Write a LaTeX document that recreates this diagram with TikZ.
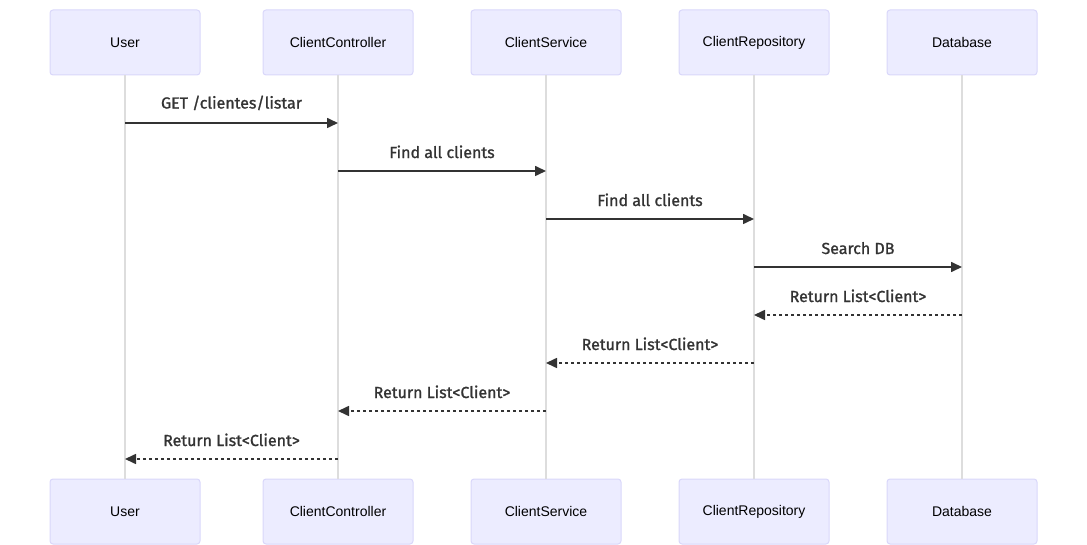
\documentclass[tikz,border=0pt]{standalone}
\usepackage{fontspec}
\setmainfont{Liberation Sans}
\newfontfamily\msgfont{Fira Sans}[FakeBold=1.2]
\usetikzlibrary{arrows.meta}
\definecolor{boxfill}{HTML}{ECECFF}
\definecolor{boxline}{HTML}{D9D7FA}
\definecolor{lifeline}{HTML}{DDDDDD}
\definecolor{ink}{HTML}{333333}
\begin{document}
\begin{tikzpicture}[x=1pt,y=-1pt,
  actor/.style={draw=boxline, line width=1pt, fill=boxfill, rounded corners=3pt,
    minimum width=150pt, minimum height=65pt, inner sep=0pt, font=\fontsize{14}{16}\selectfont, text=black},
  life/.style={draw=lifeline, line width=1.6pt},
  msg/.style={draw=ink, line width=1.6pt, -{Triangle[length=11pt,width=10pt]}},
  ret/.style={msg, dash pattern=on 3pt off 3pt},
  lbl/.style={font=\msgfont\fontsize{16}{18}\selectfont, text=ink, inner sep=0pt}]
\useasboundingbox (0,0) rectangle (1087,545);
\foreach \n/\t/\x in {u/User/125, cc/ClientController/338, cs/ClientService/546, cr/ClientRepository/754, db/Database/962}{
  \node[actor] (\n t) at (\x,42.5) {\t};
  \node[actor] (\n b) at (\x,511.5) {\t};
  \draw[life] (\n t.south) -- (\n b.north);
}
\foreach \n/\x in {u/125, cc/338, cs/546, cr/754, db/962}{
  \foreach \y in {123,171,219,267,315,363,411,459}{
    \coordinate (\n\y) at (\x,\y);
  }
}
\draw[msg] (u123) -- node[lbl, above=12pt] {GET /clientes/listar} (cc123);
\draw[msg] (cc171) -- node[lbl, above=12pt] {Find all clients} (cs171);
\draw[msg] (cs219) -- node[lbl, above=12pt] {Find all clients} (cr219);
\draw[msg] (cr267) -- node[lbl, above=12pt] {Search DB} (db267);
\draw[ret] (db315) -- node[lbl, above=12pt] {Return List<Client>} (cr315);
\draw[ret] (cr363) -- node[lbl, above=12pt] {Return List<Client>} (cs363);
\draw[ret] (cs411) -- node[lbl, above=12pt] {Return List<Client>} (cc411);
\draw[ret] (cc459) -- node[lbl, above=12pt] {Return List<Client>} (u459);
\end{tikzpicture}
\end{document}
